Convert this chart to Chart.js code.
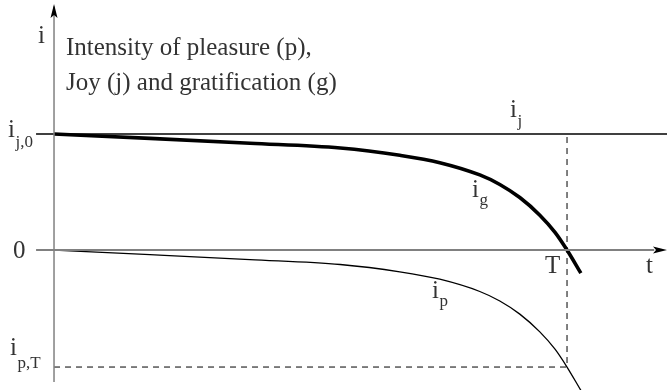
<!DOCTYPE html>
<html>
<head>
<meta charset="utf-8">
<script src="https://cdn.jsdelivr.net/npm/chart.js@4/dist/chart.umd.min.js"></script>
<style>
  html, body { margin: 0; padding: 0; background: #ffffff; }
  #wrap { width: 667px; height: 390px; }
</style>
</head>
<body>
<div id="wrap"><canvas id="chart" width="667" height="390"></canvas></div>
<script>
// Time values (T = 1) and intensities (i_j,0 = 1)
const timeT = [0, 0.187, 0.382, 0.558, 0.674, 0.752, 0.830, 0.869, 0.908, 0.947, 0.977, 1.0, 1.027];
const gratI = [1.0, 0.962, 0.920, 0.879, 0.816, 0.753, 0.647, 0.565, 0.452, 0.300, 0.150, 0, -0.20];
const pleasI = [0, -0.040, -0.083, -0.125, -0.188, -0.252, -0.358, -0.440, -0.553, -0.706, -0.857, -1.009, -1.21];
const joyLevel = 1;
const endT = 1;            // T
const pleasAtEnd = -1.009; // i_p,T
const xRange = [-0.1053, 1.1949];
const yRange = [-1.207, 2.155];

const TEXT = '#333333';
const AXIS = '#808080';
const FONT = '"Liberation Serif", "Times New Roman", serif';

function pts(xs, ys) {
  return xs.map((x, i) => ({ x: x, y: ys[i] }));
}

// labels, arrows and title
const annotations = {
  id: 'annotations',
  afterDatasetsDraw(chart) {
    const ctx = chart.ctx;
    const xs = chart.scales.x;
    const ys = chart.scales.y;
    const px = v => xs.getPixelForValue(v);
    const py = v => ys.getPixelForValue(v);

    ctx.save();
    // arrow heads
    ctx.fillStyle = '#000';
    const ax = px(0);
    ctx.beginPath();
    ctx.moveTo(ax, 4);
    ctx.lineTo(ax - 3.5, 18);
    ctx.lineTo(ax, 15);
    ctx.lineTo(ax + 3.5, 18);
    ctx.closePath();
    ctx.fill();
    const ay = py(0);
    ctx.beginPath();
    ctx.moveTo(667, ay);
    ctx.lineTo(653, ay - 3.5);
    ctx.lineTo(656, ay);
    ctx.lineTo(653, ay + 3.5);
    ctx.closePath();
    ctx.fill();

    ctx.fillStyle = TEXT;
    ctx.textBaseline = 'alphabetic';
    ctx.textAlign = 'left';
    const big = '25px ' + FONT;
    const small = '17px ' + FONT;

    function sym(main, sub, x, y, subDy) {
      ctx.font = big;
      ctx.fillText(main, x, y);
      const w = ctx.measureText(main).width;
      if (sub) {
        ctx.font = small;
        ctx.fillText(sub, x + w + 0.5, y + subDy);
      }
    }

    // title
    ctx.font = big;
    ctx.fillText('Intensity of pleasure (p),', 66, 55);
    ctx.fillText('Joy (j) and gratification (g)', 66, 90);
    sym('i', '', ax - 16, 43, 0);

    // y labels
    sym('i', 'j,0', 8, py(joyLevel) + 3, 10);
    sym('0', '', 13, py(0) + 8, 0);
    sym('i', 'p,T', 10, py(pleasAtEnd) - 12, 13);

    // curve labels
    sym('i', 'j', 510, py(joyLevel) - 17, 9);
    sym('i', 'g', 472, 197, 8);
    sym('i', 'p', 432, 298, 8);
    sym('T', '', px(endT) - 22, py(0) + 23, 0);
    sym('t', '', 646, py(0) + 23, 0);
    ctx.restore();
  }
};

new Chart(document.getElementById('chart'), {
  type: 'line',
  data: {
    datasets: [
      {
        label: 'y axis',
        data: [{ x: 0, y: -1.138 }, { x: 0, y: 2.1 }],
        borderColor: AXIS,
        borderWidth: 1.5
      },
      {
        label: 't axis',
        data: [{ x: -0.035, y: 0 }, { x: 1.17, y: 0 }],
        borderColor: AXIS,
        borderWidth: 2.2
      },
      {
        label: 'i_j',
        data: [{ x: -0.035, y: joyLevel }, { x: xRange[1], y: joyLevel }],
        borderColor: '#000',
        borderWidth: 1.3
      },
      {
        label: 'guides',
        data: [{ x: 0, y: pleasAtEnd }, { x: endT, y: pleasAtEnd }, { x: endT, y: joyLevel }],
        borderColor: '#000',
        borderWidth: 1,
        borderDash: [6, 5]
      },
      {
        label: 'i_g',
        data: pts(timeT, gratI),
        borderColor: '#000',
        borderWidth: 3.6,
        cubicInterpolationMode: 'monotone'
      },
      {
        label: 'i_p',
        data: pts(timeT, pleasI),
        borderColor: '#000',
        borderWidth: 1.3,
        cubicInterpolationMode: 'monotone'
      }
    ]
  },
  options: {
    responsive: false,
    animation: false,
    clip: false,
    layout: { padding: 0 },
    elements: { point: { radius: 0 }, line: { fill: false } },
    plugins: { legend: { display: false }, tooltip: { enabled: false } },
    scales: {
      x: { type: 'linear', min: xRange[0], max: xRange[1], display: false },
      y: { type: 'linear', min: yRange[0], max: yRange[1], display: false }
    }
  },
  plugins: [annotations]
});
</script>
</body>
</html>
